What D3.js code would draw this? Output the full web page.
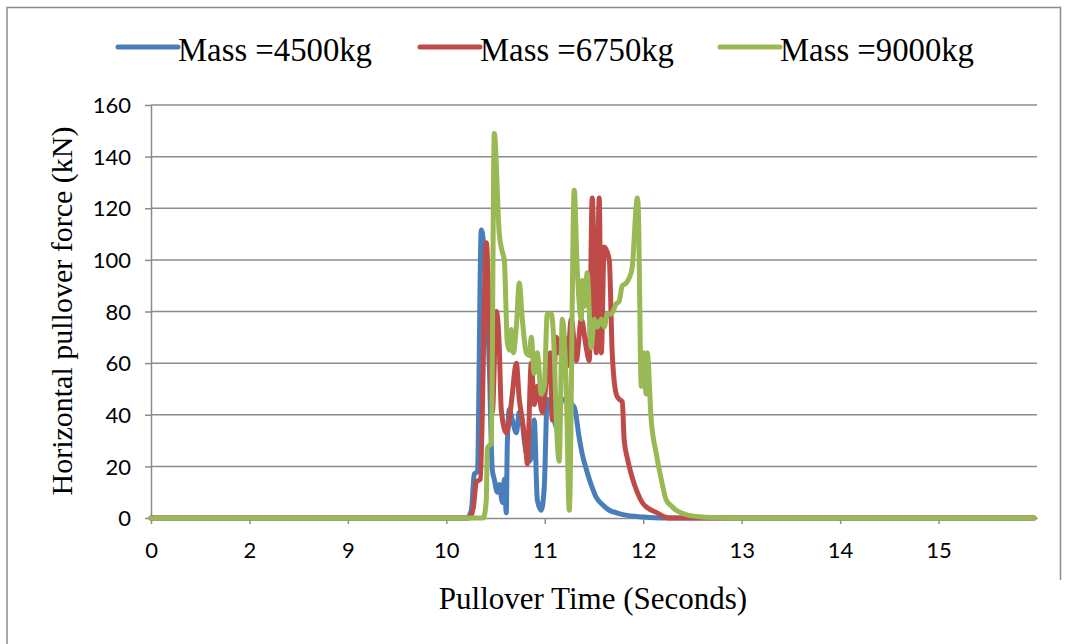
<!DOCTYPE html>
<html>
<head>
<meta charset="utf-8">
<script src="https://cdn.jsdelivr.net/npm/d3@7"></script>
<style>
  body { margin: 0; background: #fff; }
  .grid line { stroke: #8c8c8c; stroke-width: 1.5px; }
  .axis path, .axis line { stroke: #8c8c8c; stroke-width: 1.5px; }
  .axis text { font-family: Lato, "Open Sans", sans-serif; font-size: 22px; fill: #000; }
  .title { font-family: "Liberation Serif", serif; fill: #000; }
  .line { fill: none; stroke-width: 5px; stroke-linejoin: round; stroke-linecap: round; }
</style>
</head>
<body>
<svg width="1068" height="644"></svg>
<script>
var svg = d3.select('svg'),
	width = +svg.attr('width'), height = +svg.attr('height');

//Category ticks as they appear on the axis (not evenly spaced in time).
var xTicks = [0, 2, 9, 10, 11, 12, 13, 14, 15];
var yTicks = [0, 20, 40, 60, 80, 100, 120, 140, 160];
var seriesNames = ['Mass =4500kg', 'Mass =6750kg', 'Mass =9000kg'];
var seriesColors = ['#4a7ebb', '#be4b48', '#98b954'];

//[time (s), force (kN)].
var mass4500 = [[0, 0], [10.21, 0], [10.254, 3], [10.284, 17], [10.315, 18], [10.355, 111.6],
	[10.437, 58], [10.467, 18.6], [10.487, 15], [10.518, 10], [10.538, 13], [10.558, 8],
	[10.569, 6], [10.589, 15], [10.609, 2], [10.619, 28], [10.640, 42], [10.670, 38],
	[10.711, 33], [10.741, 41], [10.772, 37], [10.792, 30], [10.843, 22], [10.873, 25],
	[10.893, 38], [10.924, 7], [10.964, 3], [10.995, 12], [11.025, 46], [11.066, 42],
	[11.096, 38], [11.117, 35], [11.178, 46], [11.299, 43], [11.350, 31], [11.385, 24],
	[11.421, 19], [11.470, 13], [11.523, 8], [11.590, 5], [11.655, 3], [11.730, 2],
	[11.807, 1.2], [12.0, 0.4], [12.213, 0], [15.97, 0]];
var mass6750 = [[0, 0], [10.234, 0], [10.274, 4], [10.305, 14], [10.345, 15], [10.406, 106.6],
	[10.467, 41], [10.508, 80], [10.538, 66], [10.558, 42], [10.609, 33], [10.640, 38],
	[10.670, 48], [10.711, 60], [10.741, 46], [10.772, 38], [10.812, 25], [10.822, 21],
	[10.863, 60], [10.893, 44], [10.924, 51], [10.975, 41], [11.025, 56], [11.056, 64],
	[11.076, 38], [11.117, 70], [11.147, 64], [11.198, 70], [11.228, 59], [11.269, 77],
	[11.320, 61], [11.371, 77], [11.421, 66], [11.452, 61], [11.482, 124], [11.523, 64],
	[11.553, 124], [11.574, 64], [11.604, 105], [11.655, 100], [11.685, 64], [11.726, 48],
	[11.756, 46], [11.787, 45], [11.807, 30], [11.840, 23], [11.878, 17], [11.939, 10],
	[11.990, 6], [12.041, 4], [12.142, 2], [12.213, 0.5], [12.26, 0], [15.97, 0]];
var mass9000 = [[0, 0], [10.376, 0], [10.406, 7], [10.416, 27], [10.457, 29], [10.487, 149],
	[10.538, 110], [10.569, 103], [10.589, 100], [10.619, 68], [10.640, 65], [10.660, 73],
	[10.680, 64], [10.711, 74], [10.741, 91], [10.772, 77], [10.812, 64], [10.843, 63],
	[10.863, 70], [10.893, 56], [10.924, 64], [10.964, 48], [10.995, 51], [11.025, 79],
	[11.066, 79], [11.096, 64], [11.117, 38], [11.147, 22], [11.178, 77], [11.218, 51],
	[11.249, 3], [11.299, 127], [11.330, 96], [11.371, 77], [11.381, 92], [11.401, 82],
	[11.431, 95], [11.472, 66], [11.503, 77], [11.533, 74], [11.574, 77], [11.604, 74],
	[11.635, 79], [11.675, 79], [11.726, 83], [11.756, 84], [11.787, 90], [11.827, 91],
	[11.858, 93], [11.888, 97], [11.929, 121], [11.939, 124], [11.949, 121], [11.980, 51],
	[12.000, 64], [12.030, 48], [12.041, 64], [12.081, 38], [12.132, 25], [12.183, 15],
	[12.234, 7], [12.290, 4.5], [12.335, 3], [12.400, 1.8], [12.467, 1], [12.640, 0.3],
	[12.9, 0], [15.97, 0]];
var allSeries = [mass4500, mass6750, mass9000];

//Outer frame of the chart.
svg.append('path')
	.attr('d', 'M7,644V7.5H1060.5V580')
	.style('fill', 'none')
	.style('stroke', '#8c8c8c')
	.style('stroke-width', 1.5);

var margin = {top: 105, right: 31, bottom: 126, left: 151};
var inner = svg.append('g')
	.attr('transform', 'translate(' + margin.left + ',' + margin.top + ')');
var heightInner = height - margin.top - margin.bottom,
		widthInner = width - margin.left - margin.right;

//Polylinear scale: each category tick gets the same width, like the spreadsheet axis.
var xDomain = xTicks.concat([16]);
var xScale = d3.scaleLinear()
	.domain(xDomain)
	.range(xDomain.map(function(d, i) { return i * widthInner / (xDomain.length - 1); }));
var yScale = d3.scaleLinear()
	.domain([0, 160])
	.range([heightInner, 0]);

//Horizontal gridlines.
inner.append('g')
	.attr('class', 'grid')
	.selectAll('line')
	.data(yTicks.slice(1))
	.enter().append('line')
	.attr('x1', 0)
	.attr('x2', widthInner)
	.attr('y1', function(d) { return yScale(d); })
	.attr('y2', function(d) { return yScale(d); });

//Axes.
inner.append('g')
	.attr('class', 'axis')
	.call(d3.axisLeft(yScale).tickValues(yTicks).tickSize(6).tickSizeOuter(0).tickPadding(14))
	.selectAll('text').attr('dy', '0.35em');
inner.append('g')
	.attr('class', 'axis')
	.attr('transform', 'translate(0,' + heightInner + ')')
	.call(d3.axisBottom(xScale).tickValues(xTicks).tickSize(6).tickSizeOuter(0).tickPadding(18)
		.tickFormat(d3.format('d')));

//Curves.
var line = d3.line()
	.curve(d3.curveMonotoneX)
	.x(function(d) { return xScale(d[0]); })
	.y(function(d) { return yScale(d[1]); });
inner.selectAll('path.line')
	.data(allSeries)
	.enter().append('path')
	.attr('class', 'line')
	.attr('d', line)
	.style('stroke', function(d, i) { return seriesColors[i]; });

//Legend.
var legendX = [118, 420, 720];
var legend = svg.append('g');
seriesNames.forEach(function(name, i) {
	legend.append('line')
		.attr('x1', legendX[i])
		.attr('x2', legendX[i] + 60)
		.attr('y1', 47)
		.attr('y2', 47)
		.style('stroke', seriesColors[i])
		.style('stroke-width', 5)
		.style('stroke-linecap', 'round');
	legend.append('text')
		.attr('class', 'title')
		.attr('x', legendX[i] + 60)
		.attr('y', 61)
		.attr('textLength', 194)
		.attr('lengthAdjust', 'spacingAndGlyphs')
		.style('font-size', '34px')
		.text(name);
});

//Axis titles.
svg.append('text')
	.attr('class', 'title')
	.attr('x', 593)
	.attr('y', 609)
	.attr('text-anchor', 'middle')
	.style('font-size', '31px')
	.text('Pullover Time (Seconds)');
svg.append('text')
	.attr('class', 'title')
	.attr('transform', 'translate(72,311) rotate(-90)')
	.attr('text-anchor', 'middle')
	.style('font-size', '30px')
	.text('Horizontal pullover force (kN)');
</script>
</body>
</html>
